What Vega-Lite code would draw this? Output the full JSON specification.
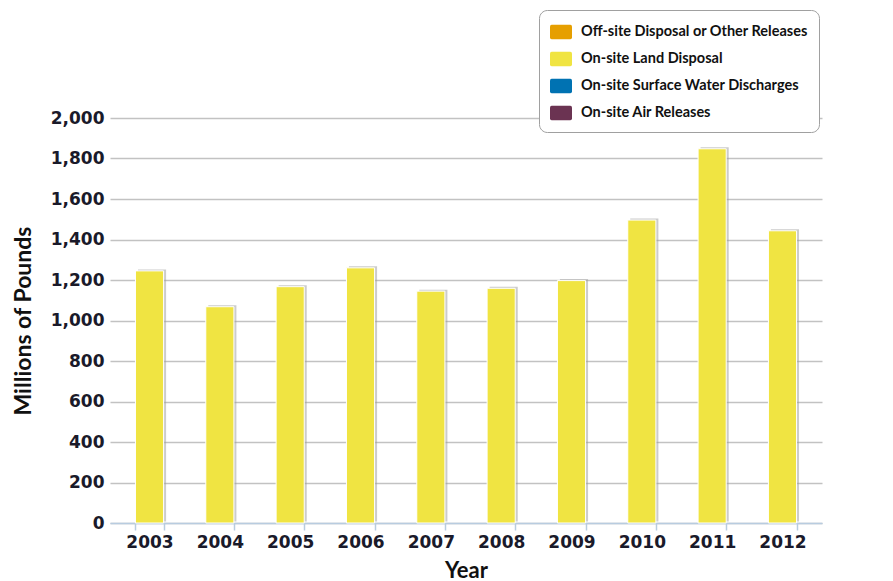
{
  "$schema": "https://vega.github.io/schema/vega-lite/v6.json",
  "width": 712,
  "height": 405,
  "autosize": {"type": "none"},
  "padding": {"left": 110, "top": 118, "right": 71, "bottom": 58},
  "background": "white",
  "config": {"view": {"stroke": null}, "font": "Lato"},
  "data": {
    "values": [
      {"year": "2003", "category": "On-site Land Disposal", "pounds": 1245},
      {"year": "2004", "category": "On-site Land Disposal", "pounds": 1068},
      {"year": "2005", "category": "On-site Land Disposal", "pounds": 1167},
      {"year": "2006", "category": "On-site Land Disposal", "pounds": 1260},
      {"year": "2007", "category": "On-site Land Disposal", "pounds": 1145},
      {"year": "2008", "category": "On-site Land Disposal", "pounds": 1159},
      {"year": "2009", "category": "On-site Land Disposal", "pounds": 1197},
      {"year": "2010", "category": "On-site Land Disposal", "pounds": 1496},
      {"year": "2011", "category": "On-site Land Disposal", "pounds": 1848},
      {"year": "2012", "category": "On-site Land Disposal", "pounds": 1443}
    ]
  },
  "encoding": {
    "x": {
      "field": "year",
      "type": "ordinal",
      "scale": {"paddingInner": 0.6, "paddingOuter": 0.362},
      "axis": {
        "title": "Year",
        "labelAngle": 0,
        "labelFont": "DejaVu Sans",
        "labelFontSize": 17,
        "labelFontWeight": "bold",
        "labelColor": "#1a1a2a",
        "labelPadding": 4,
        "tickBand": "extent",
        "tickSize": 7,
        "tickColor": "#b8cce0",
        "tickWidth": 1.5,
        "domainColor": "#b8cce0",
        "domainWidth": 1.5,
        "titleFont": "Lato",
        "titleFontSize": 22,
        "titleFontWeight": "bold",
        "titleColor": "#111111",
        "titlePadding": 10,
        "grid": false
      }
    },
    "y": {
      "field": "pounds",
      "type": "quantitative",
      "scale": {"domain": [0, 2000], "nice": false},
      "axis": {
        "title": "Millions of Pounds",
        "values": [0, 200, 400, 600, 800, 1000, 1200, 1400, 1600, 1800, 2000],
        "format": ",.0f",
        "labelFont": "DejaVu Sans",
        "labelFontSize": 17,
        "labelFontWeight": "bold",
        "labelColor": "#1a1a2a",
        "labelPadding": 6,
        "ticks": false,
        "domain": false,
        "grid": true,
        "gridColor": "#c2c2c2",
        "gridWidth": 1.5,
        "titleFont": "Lato",
        "titleFontSize": 23,
        "titleFontWeight": "bold",
        "titleColor": "#111111",
        "titlePadding": 15
      }
    }
  },
  "layer": [
    {
      "mark": {"type": "bar", "color": "#999999", "opacity": 0.5, "xOffset": 2.5, "yOffset": -1.5}
    },
    {
      "mark": {"type": "bar", "stroke": "white", "strokeWidth": 1},
      "encoding": {
        "color": {
          "field": "category",
          "type": "nominal",
          "scale": {
            "domain": ["Off-site Disposal or Other Releases", "On-site Land Disposal", "On-site Surface Water Discharges", "On-site Air Releases"],
            "range": ["#e69f00", "#f0e442", "#0072b2", "#6b3352"]
          },
          "legend": {
            "orient": "none",
            "legendX": 429,
            "legendY": -108,
            "title": null,
            "symbolType": "M-0.85,-0.65 L0.85,-0.65 Q1,-0.65 1,-0.5 L1,0.5 Q1,0.65 0.85,0.65 L-0.85,0.65 Q-1,0.65 -1,0.5 L-1,-0.5 Q-1,-0.65 -0.85,-0.65 Z",
            "symbolSize": 484,
            "symbolStrokeWidth": 0,
            "symbolOpacity": 1,
            "labelFont": "Lato",
            "labelFontSize": 14.5,
            "labelFontWeight": "bold",
            "labelColor": "#111111",
            "labelOffset": 9,
            "labelLimit": 400,
            "rowPadding": 8,
            "padding": 11,
            "strokeColor": "#a0a0a0",
            "cornerRadius": 8,
            "fillColor": "white"
          }
        }
      }
    }
  ]
}
